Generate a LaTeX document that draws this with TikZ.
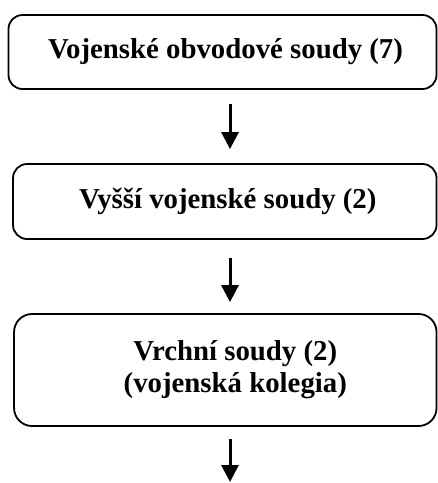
\documentclass[tikz,border=0pt]{standalone}
\usepackage{fontspec}
\setmainfont{Liberation Serif}
\usetikzlibrary{arrows.meta}
\tikzset{court/.style={draw,line width=1.8pt,rounded corners=14pt,align=center,inner sep=0pt,
	font=\fontsize{28.8}{32}\selectfont\bfseries}}
\begin{document}
\begin{tikzpicture}[x=1pt,y=-1pt,>={Triangle[width=17pt,length=17pt]},line join=round]
	\def\xcol{230} \def\ybot{482}
	\useasboundingbox (0,0) rectangle (438,483);
	\node[court,minimum width=428pt,minimum height=74pt] (obvod) at (222.5,52) {\hspace*{6pt}Vojenské obvodové soudy (7)};
	\node[court,minimum width=423.5pt,minimum height=75pt] (vyssi) at (224.8,201.5) {\hspace*{6pt}Vyšší vojenské soudy (2)};
	\node[court,rounded corners=18pt,minimum width=422.5pt,minimum height=112pt] (vrchni) at (225.3,370) {\hspace*{20pt}Vrchní soudy (2)\\\hspace*{20pt}(vojenská kolegia)};
	\coordinate (col) at (\xcol,0);
	\coordinate (dole) at (\xcol,\ybot);
	\draw[->,line width=3pt,shorten <=14pt,shorten >=14pt] (obvod.south -| col) -- (vyssi.north -| col);
	\draw[->,line width=3pt,shorten <=18pt,shorten >=11pt] (vyssi.south -| col) -- (vrchni.north -| col);
	\draw[->,line width=3pt,shorten <=12pt] (vrchni.south -| col) -- (dole);
\end{tikzpicture}
\end{document}
